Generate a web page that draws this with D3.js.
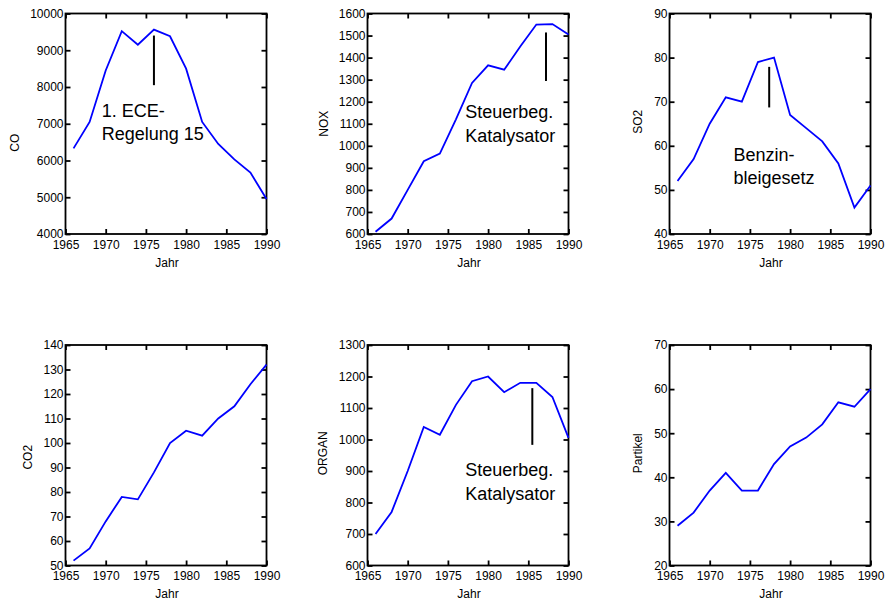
<!DOCTYPE html>
<html><head><meta charset="utf-8">
<script src="https://cdn.jsdelivr.net/npm/d3@7"></script>
<style>
html,body{margin:0;padding:0;background:#fff;}
svg{display:block;font-family:"Liberation Sans",Arial,sans-serif;}
</style></head>
<body><svg id="c" width="890" height="601"></svg>
<script>
// ---- data ----
const years = [1966,1968,1970,1972,1974,1976,1978,1980,1982,1984,1986,1988,1990];
const xTicks = [1965,1970,1975,1980,1985,1990];

const coValues      = [6330,7050,8450,9520,9150,9560,9380,8500,7050,6450,6030,5670,4950];
const noxValues     = [610,670,800,930,965,1120,1285,1365,1345,1450,1550,1552,1505];
const so2Values     = [52,57,65,71,70,79,80,67,64,61,56,46,51];
const co2Values     = [52,57,68,78,77,88,100,105,103,110,115,124,132];
const organValues   = [700,770,900,1040,1015,1110,1185,1200,1150,1180,1180,1135,1005];
const partikelValues= [29,32,37,41,37,37,43,47,49,52,57,56,60];

const coTicks       = [4000,5000,6000,7000,8000,9000,10000];
const noxTicks      = [600,700,800,900,1000,1100,1200,1300,1400,1500,1600];
const so2Ticks      = [40,50,60,70,80,90];
const co2Ticks      = [50,60,70,80,90,100,110,120,130,140];
const organTicks    = [600,700,800,900,1000,1100,1200,1300];
const partikelTicks = [20,30,40,50,60,70];

const panelNames = ["CO","NOX","SO2","CO2","ORGAN","Partikel"];
const panelValues = [coValues,noxValues,so2Values,co2Values,organValues,partikelValues];
const panelTicks = [coTicks,noxTicks,so2Ticks,co2Ticks,organTicks,partikelTicks];

// annotations (data coordinates): marker line year, from/to value; text anchor year/value
const annotations = [
  {panel:0, lineX:1976,   y1:9400, y2:8050, textX:1969.5, textY:7190, lines:["1. ECE-","Regelung 15"]},
  {panel:1, lineX:1987.2, y1:1514, y2:1294, textX:1977.15, textY:1126, lines:["Steuerbeg.","Katalysator"]},
  {panel:2, lineX:1977.4, y1:77.9, y2:68.7, textX:1972.96, textY:56.6, lines:["Benzin-","bleigesetz"]},
  {panel:4, lineX:1985.5, y1:1163, y2:983, textX:1977.15, textY:882.8, lines:["Steuerbeg.","Katalysator"]}
];

// ---- layout ----
const colX = [65.5, 367.5, 669.5];
const rowY = [13.5, 345];
const pw = 201, ph = 220.5;
const ylabOffset = [47, 40, 28, 34, 41, 28];
const ylabShift = [19, 0, -2, 2, -2, -2];

const svg = d3.select("#c");
svg.append("rect").attr("width",890).attr("height",601).attr("fill","#fff");

panelNames.forEach((name,i)=>{
  const x0 = colX[i%3], y0 = rowY[Math.floor(i/3)];
  const ticks = panelTicks[i];
  const g = svg.append("g").attr("transform",`translate(${x0},${y0})`);
  const x = d3.scaleLinear().domain([1965,1990]).range([0,pw]);
  const y = d3.scaleLinear().domain([ticks[0],ticks[ticks.length-1]]).range([ph,0]);

  const styleAxis = sel => {
    sel.select(".domain").remove();
    sel.selectAll(".tick line").attr("stroke","#000").attr("stroke-width",1.8);
    sel.selectAll("text").attr("font-size","12px").attr("fill","#000").attr("font-family","'Liberation Sans',Arial,sans-serif");
  };

  g.append("g").call(d3.axisLeft(y).tickValues(ticks).tickFormat(d3.format("d")).tickSizeInner(-5).tickSizeOuter(0).tickPadding(2)).call(styleAxis);
  g.append("g").attr("transform",`translate(${pw},0)`).call(d3.axisRight(y).tickValues(ticks).tickFormat("").tickSizeInner(-5).tickSizeOuter(0)).call(styleAxis);
  g.append("g").attr("transform",`translate(0,${ph})`).call(d3.axisBottom(x).tickValues(xTicks).tickFormat(d3.format("d")).tickSizeInner(-5).tickSizeOuter(0).tickPadding(6)).call(styleAxis);
  g.append("g").call(d3.axisTop(x).tickValues(xTicks).tickFormat("").tickSizeInner(-5).tickSizeOuter(0)).call(styleAxis);

  g.append("rect").attr("width",pw).attr("height",ph).attr("fill","none").attr("stroke","#000").attr("stroke-width",1.8);

  const line = d3.line().x((d,j)=>x(years[j])).y(d=>y(d));
  g.append("path").datum(panelValues[i]).attr("d",line).attr("fill","none")
    .attr("stroke","#0000ff").attr("stroke-width",1.8).attr("stroke-linejoin","miter");

  g.append("text").attr("transform",`translate(${-ylabOffset[i]},${ph/2+ylabShift[i]}) rotate(-90)`)
    .attr("text-anchor","middle").attr("font-size","12px").text(name);
  g.append("text").attr("x",pw/2+1).attr("y",ph+32.5).attr("text-anchor","middle").attr("font-size","12px").text("Jahr");

  annotations.filter(a=>a.panel===i).forEach(a=>{
    g.append("line").attr("x1",x(a.lineX)).attr("x2",x(a.lineX)).attr("y1",y(a.y1)).attr("y2",y(a.y2))
      .attr("stroke","#000").attr("stroke-width",2);
    const t = g.append("text").attr("x",x(a.textX)).attr("y",y(a.textY)).attr("font-size","18px").attr("fill","#000");
    a.lines.forEach((s,k)=>t.append("tspan").attr("x",x(a.textX)).attr("dy",k===0?0:23.5).text(s));
  });
});
</script></body></html>
